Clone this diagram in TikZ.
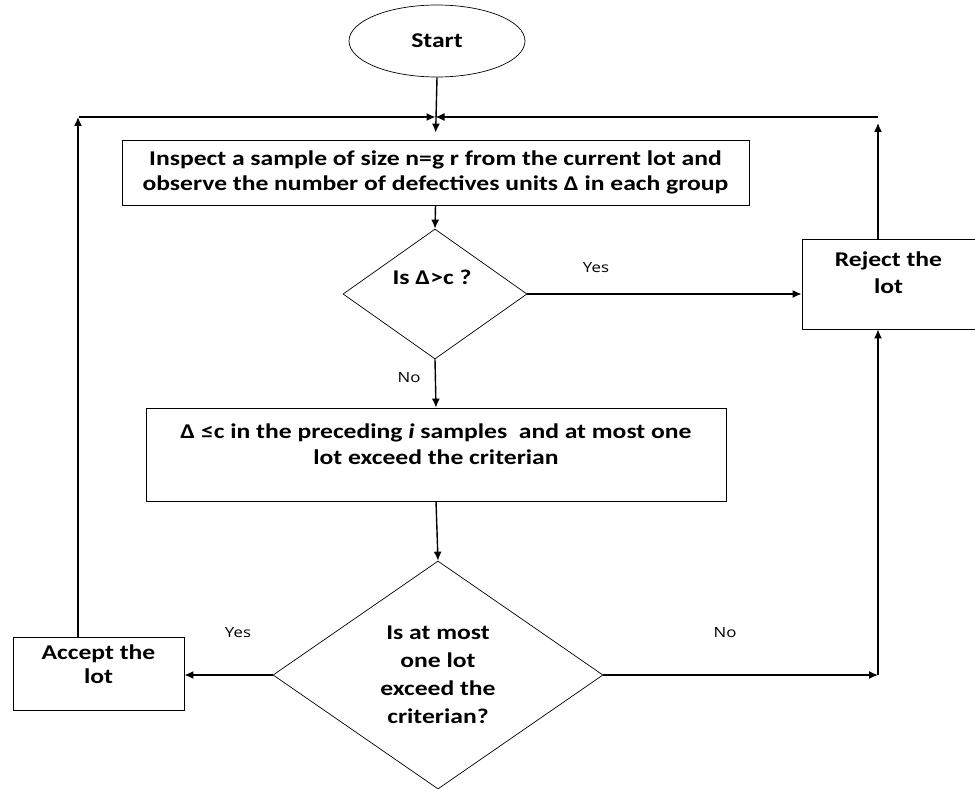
\documentclass[tikz,border=0pt]{standalone}
\usepackage{fontspec}
\setmainfont{Carlito}[FakeStretch=1.22]
\newfontfamily\labelfont{Open Sans}[FakeStretch=1.2]
\usepackage{tikz}
\usetikzlibrary{shapes, shapes.geometric, arrows.meta}
\tikzstyle{line} = [draw, line width=1.4pt, -{Latex[length=9pt, width=8pt]}]
\tikzstyle{block} = [draw, rectangle, line width=0.8pt, inner sep=0pt]
\tikzstyle{decision} = [draw, diamond, line width=0.7pt, inner sep=0pt]
\tikzstyle{boxtext} = [align=center, font=\fontsize{21}{27}\selectfont\bfseries]
\tikzstyle{answer} = [font=\labelfont\fontsize{14}{16}\selectfont]

\begin{document}
\begin{tikzpicture}[x=1pt, y=-1pt]
		\useasboundingbox (0,0) rectangle (975,789);
		\node[draw, ellipse, line width=0.7pt, minimum width=176, minimum height=72, boxtext] (start) at (437,41) {Start};
		\node[block, minimum width=627, minimum height=65, boxtext, font=\fontsize{21}{25}\selectfont\bfseries] (inspect) at (435.5,172.5) {Inspect a sample of size n=g r from the current lot and\\observe the number of defectives units Δ in each group};
		\node[decision, minimum width=184, minimum height=130] (test) at (435,294) {};
		\node[boxtext] at (432,277) {Is Δ>c ?};
		\node[block, minimum width=173, minimum height=90] (reject) at (888.5,284) {};
		\node[boxtext] at (888.5,273) {Reject the\\lot};
		\node[block, minimum width=580, minimum height=93] (criteria) at (436,454.5) {};
		\node[boxtext, font=\fontsize{21}{26}\selectfont\bfseries] at (436,444) {Δ ≤c in the preceding \textit{i} samples~ and at most one\\lot exceed the criterian};
		\node[decision, minimum width=330, minimum height=228, boxtext, font=\fontsize{21}{28}\selectfont\bfseries] (decide) at (438,675) {Is at most\\one lot\\exceed the\\criterian?};
		\node[block, minimum width=171, minimum height=73] (accept) at (98.5,673.5) {};
		\node[boxtext, font=\fontsize{21}{24}\selectfont\bfseries] at (98.5,664) {Accept the\\lot};
		% answers
		\node[answer] (yes1) at (596,268) {Yes};
		\node[answer] (no1) at (409,378) {No};
		\node[answer] (yes2) at (238,633) {Yes};
		\node[answer] (no2) at (725,633) {No};
		% loop back
		\coordinate (tl) at (78,117);
		\coordinate (tr) at (878,117);
		\coordinate (br) at (878,675);
		\draw[line, shorten >=7pt] (start.south) -- (inspect.north);
		\draw[line] (tl |- accept.north) -- (tl);
		\draw[line] ([xshift=1]tl) -- (inspect.north |- tl);
		\draw[line, shorten >=6pt] (tr |- reject.north) -- (tr);
		\draw[line] (tr) -- (inspect.north |- tr);
		\draw[line] (inspect.south) -- (test.north);
		\draw[line] (test.east) -- (test.east -| reject.west);
		\draw[line] (test.south) -- (criteria.north);
		\draw[line] (criteria.south) -- (decide.north);
		\draw[line] (decide.west) -- (decide.west -| accept.east);
		\draw[line] (decide.east) -- (br);
		\draw[line] (br) -- (br |- reject.south);
	\end{tikzpicture}
\end{document}
